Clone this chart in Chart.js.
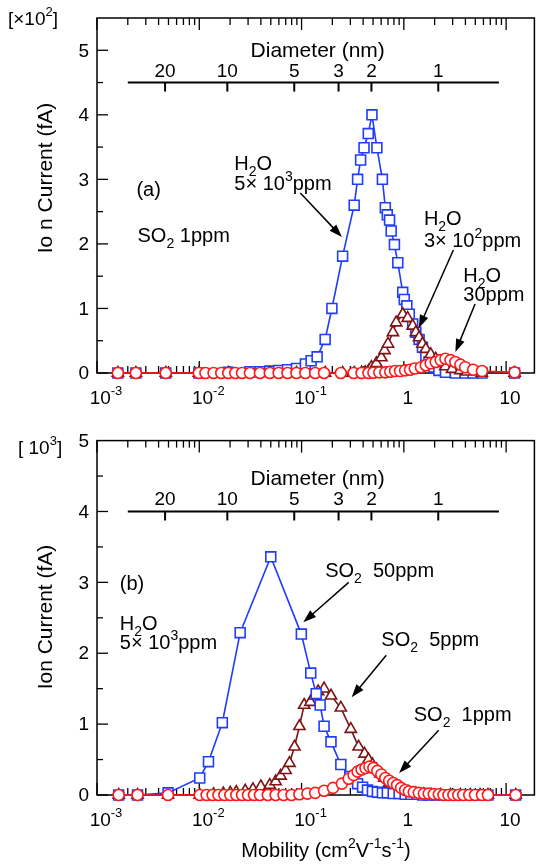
<!DOCTYPE html>
<html lang="en">
<head>
<meta charset="UTF-8">
<title>Ion current vs mobility</title>
<script src="https://cdn.jsdelivr.net/npm/chart.js"></script>
<style>
  body { margin: 0; padding: 0; background: #fff; }
  canvas { display: block; }
</style>
</head>
<body>
<canvas id="chartA" width="543" height="432"></canvas>
<canvas id="chartB" width="543" height="432"></canvas>
<script>
// axis ticks
const xTickVals = [0.001, 0.01, 0.1, 1, 10];
const xTickLabels = ['10^{-3}', '10^{-2}', '10^{-1}', '1', '10'];
const yTickVals = [0, 1, 2, 3, 4, 5];
// diameter scale drawn inside the plot (nm -> mobility)
const diamLabels = ['20', '10', '5', '3', '2', '1'];
const diamMobility = [0.00463, 0.0188, 0.0848, 0.230, 0.482, 2.17];

// (a) SO2 1ppm, H2O 5x10^3 ppm  (units of 10^2 fA)
const mobA_h2o5e3 = [0.0016, 0.0024, 0.0047, 0.0099, 0.0192, 0.0313, 0.0392, 0.0489, 0.0597, 0.0729, 0.0891,
  0.109, 0.124, 0.142, 0.170, 0.198, 0.252, 0.327, 0.353, 0.378, 0.408, 0.449, 0.488,
  0.545, 0.617, 0.659, 0.689, 0.725, 0.752, 0.809, 0.873,
  0.975, 1.01, 1.07, 1.13, 1.22, 1.31, 1.41, 1.52, 1.64, 1.76, 1.97, 2.20, 2.55,
  3.19, 3.98, 4.76, 5.81, 12.1];
const curA_h2o5e3 = [0, 0, 0, 0, 0.01, 0.02, 0.02, 0.03, 0.04, 0.05, 0.07,
  0.14, 0.19, 0.25, 0.52, 1.0, 1.81, 2.6, 3.0, 3.3, 3.49, 3.71, 4.0,
  3.49, 3.0, 2.56, 2.45, 2.37, 2.2, 1.99, 1.71,
  1.25, 1.14, 1.04, 0.91, 0.76, 0.63, 0.52, 0.40, 0.27, 0.17, 0.09, 0.04, 0.01,
  0, 0, 0, 0, 0];
// (a) H2O 3x10^2 ppm
const mobA_h2o300 = [0.0016, 0.0024, 0.0047, 0.0099, 0.0192, 0.0489, 0.0891, 0.170, 0.252, 0.327,
  0.386, 0.420, 0.451, 0.482, 0.539, 0.603, 0.648, 0.700, 0.782, 0.841,
  0.975, 1.09, 1.22, 1.31, 1.41, 1.52, 1.64, 1.83, 2.05, 2.29,
  2.55, 2.96, 3.57, 4.17, 5.78, 12.1];
const curA_h2o300 = [0, 0, 0, 0, 0, 0, 0, 0, 0, 0,
  0.005, 0.01, 0.03, 0.09, 0.15, 0.24, 0.35, 0.45, 0.63, 0.78,
  0.91, 0.85, 0.73, 0.63, 0.55, 0.45, 0.37, 0.29, 0.22, 0.15,
  0.10, 0.06, 0.04, 0.02, 0, 0];
// (a) H2O 30 ppm
const mobA_h2o30 = [0.0016, 0.0024, 0.0047, 0.0099, 0.0115, 0.0138, 0.0164, 0.0192, 0.0225, 0.0262,
  0.0313, 0.0392, 0.0489, 0.0597, 0.0729, 0.0891, 0.109, 0.136, 0.166, 0.242,
  0.323, 0.386, 0.451, 0.504, 0.576, 0.659, 0.736, 0.822, 0.919, 1.03,
  1.15, 1.28, 1.47, 1.64, 1.83, 2.05, 2.29, 2.55, 2.86, 3.19,
  3.57, 3.98, 4.76, 5.81, 12.1];
const curA_h2o30 = [0, 0, 0, 0, 0, 0, 0, 0, 0, 0,
  0, 0, 0, 0, 0, 0, 0, 0, 0, 0,
  0, 0, 0, 0.005, 0.01, 0.01, 0.02, 0.03, 0.03, 0.04,
  0.05, 0.07, 0.09, 0.12, 0.15, 0.17, 0.20, 0.22, 0.20, 0.17,
  0.13, 0.09, 0.05, 0.03, 0.01];

// (b) H2O 5x10^3 ppm, SO2 50 ppm  (units of 10^3 fA)
const mobB_so2_50 = [0.00163, 0.00249, 0.00495, 0.0101, 0.0123, 0.0168, 0.0251, 0.05, 0.0995, 0.123,
  0.139, 0.152, 0.166, 0.194, 0.242, 0.296, 0.353, 0.395, 0.441, 0.493,
  0.551, 0.617, 0.689, 0.787, 0.899, 1.03, 1.17, 1.34, 1.53, 1.75,
  2.05, 2.39, 2.86, 3.33, 3.98, 4.76, 5.81, 6.64, 12.4];
const curB_so2_50 = [0, 0, 0.03, 0.24, 0.47, 1.02, 2.29, 3.36, 2.27, 1.72,
  1.43, 1.27, 0.97, 0.75, 0.43, 0.26, 0.16, 0.11, 0.07, 0.05,
  0.04, 0.03, 0.03, 0.02, 0.02, 0.01, 0.01, 0.01, 0, 0,
  0, 0, 0, 0, 0, 0, 0, 0, 0];
// (b) SO2 5 ppm
const mobB_so2_5 = [0.00163, 0.00249, 0.00495, 0.0101, 0.0138, 0.0172, 0.0201, 0.023, 0.0281, 0.0335,
  0.04, 0.0489, 0.0558, 0.0624, 0.0698, 0.0762, 0.0853, 0.0953, 0.106, 0.122,
  0.133, 0.145, 0.166, 0.194, 0.242, 0.303, 0.361, 0.413, 0.451, 0.493,
  0.539, 0.589, 0.644, 0.719, 0.841, 0.982, 1.12, 1.31, 1.57, 1.87,
  2.29, 2.86, 3.57, 4.46, 5.56, 6.64, 12.4];
const curB_so2_5 = [0, 0, 0, 0, 0.01, 0.02, 0.03, 0.04, 0.06, 0.08,
  0.12, 0.14, 0.19, 0.27, 0.35, 0.45, 0.68, 0.97, 1.27, 1.31,
  1.40, 1.46, 1.50, 1.40, 1.23, 0.93, 0.68, 0.58, 0.50, 0.43,
  0.36, 0.30, 0.24, 0.17, 0.12, 0.07, 0.04, 0.02, 0.01, 0,
  0, 0, 0, 0, 0, 0, 0];
// (b) SO2 1 ppm
const mobB_so2_1 = [0.00163, 0.00249, 0.00495, 0.0101, 0.0118, 0.0135, 0.0154, 0.0176, 0.0201, 0.023,
  0.0262, 0.03, 0.0343, 0.0392, 0.0468, 0.0558, 0.0667, 0.0798, 0.0953, 0.114,
  0.136, 0.166, 0.203, 0.248, 0.289, 0.323, 0.353, 0.386, 0.422, 0.461,
  0.504, 0.551, 0.603, 0.659, 0.719, 0.787, 0.859, 0.94, 1.03, 1.12,
  1.25, 1.40, 1.57, 1.75, 1.96, 2.20, 2.44, 2.73, 3.05, 3.41,
  3.81, 4.36, 4.97, 5.81, 6.64, 12.4];
const curB_so2_1 = [0, 0, 0, 0, 0, 0, 0, 0, 0, 0,
  0, 0, 0, 0, 0, 0, 0, 0, 0.01, 0.02,
  0.03, 0.06, 0.10, 0.16, 0.23, 0.28, 0.33, 0.36, 0.38, 0.40,
  0.38, 0.34, 0.29, 0.24, 0.20, 0.17, 0.14, 0.10, 0.07, 0.05,
  0.04, 0.03, 0.02, 0.02, 0.01, 0.01, 0, 0, 0, 0,
  0, 0, 0, 0, 0, 0];

const FONT = '"Liberation Sans", Arial, sans-serif';

// text with _x / ^x (or _{..} / ^{..}) sub- and superscripts
function richParts(str) {
  const parts = [];
  let buf = '', i = 0;
  while (i < str.length) {
    const c = str[i];
    if (c === '_' || c === '^') {
      if (buf) { parts.push({ t: buf, k: 0 }); buf = ''; }
      let t;
      if (str[i + 1] === '{') { const j = str.indexOf('}', i); t = str.slice(i + 2, j); i = j + 1; }
      else { t = str[i + 1]; i += 2; }
      parts.push({ t: t, k: c === '_' ? -1 : 1 });
    } else { buf += c; i++; }
  }
  if (buf) parts.push({ t: buf, k: 0 });
  return parts;
}

function drawRich(ctx, str, x, y, size, align) {
  const parts = richParts(str);
  const small = Math.round(size * 0.68);
  let w = 0;
  parts.forEach(p => {
    ctx.font = (p.k ? small : size) + 'px ' + FONT;
    p.w = ctx.measureText(p.t).width;
    w += p.w;
  });
  let cx = align === 'center' ? x - w / 2 : (align === 'right' ? x - w : x);
  ctx.textAlign = 'left';
  ctx.textBaseline = 'alphabetic';
  parts.forEach(p => {
    ctx.font = (p.k ? small : size) + 'px ' + FONT;
    const dy = p.k === 1 ? -size * 0.45 : (p.k === -1 ? size * 0.28 : 0);
    ctx.fillText(p.t, cx, y + dy);
    cx += p.w;
  });
}

function line(ctx, x1, y1, x2, y2) {
  ctx.beginPath(); ctx.moveTo(x1, y1); ctx.lineTo(x2, y2); ctx.stroke();
}

function arrow(ctx, x1, y1, x2, y2) {
  const a = Math.atan2(y2 - y1, x2 - x1), L = 13, W = 4.5;
  const c = Math.cos(a), s = Math.sin(a);
  line(ctx, x1, y1, x2 - L * 0.7 * c, y2 - L * 0.7 * s);
  ctx.beginPath();
  ctx.moveTo(x2, y2);
  ctx.lineTo(x2 - L * c + W * s, y2 - L * s - W * c);
  ctx.lineTo(x2 - L * c - W * s, y2 - L * s + W * c);
  ctx.closePath();
  ctx.fill();
}

const paper = {
  id: 'paper',
  beforeDatasetsDraw(chart, args, o) {
    const { ctx, chartArea: a } = chart;
    const x = chart.scales.x, y = chart.scales.y;
    ctx.save();
    ctx.strokeStyle = '#000';
    ctx.fillStyle = '#000';
    ctx.lineWidth = 1.5;
    ctx.strokeRect(a.left, a.top, a.right - a.left, a.bottom - a.top);

    // y ticks (inside) and labels
    ctx.lineWidth = 1.3;
    for (let v = 0; v <= y.max - 0.25; v += 0.5) {
      const py = y.getPixelForValue(v);
      line(ctx, a.left, py, a.left + (v % 1 === 0 ? 11 : 6), py);
    }
    ctx.font = '19px ' + FONT;
    ctx.textAlign = 'right';
    ctx.textBaseline = 'middle';
    yTickVals.forEach(v => ctx.fillText(String(v), a.left - 8, y.getPixelForValue(v) + 1));

    // x ticks on bottom and top
    for (let e = -3; e <= 1; e++) {
      for (let k = 1; k <= 9; k++) {
        const m = k * Math.pow(10, e);
        if (m > x.max) break;
        const px = x.getPixelForValue(m), len = k === 1 ? 12 : 7;
        line(ctx, px, a.bottom, px, a.bottom - len);
        line(ctx, px, a.top, px, a.top + len);
      }
    }
    ctx.fillStyle = '#000';
    xTickVals.forEach((m, i) => {
      const lab = xTickLabels[i];
      const off = lab.indexOf('^') >= 0 ? 9 : 4;
      drawRich(ctx, lab, x.getPixelForValue(m) + off, a.bottom + 31, 19, 'center');
    });

    // diameter axis
    const dy = y.getPixelForValue(o.diamAt);
    ctx.lineWidth = 2;
    line(ctx, x.getPixelForValue(0.002), dy, x.getPixelForValue(8.5), dy);
    ctx.font = '19px ' + FONT;
    ctx.textAlign = 'center';
    ctx.textBaseline = 'alphabetic';
    diamMobility.forEach((m, i) => {
      const px = x.getPixelForValue(m);
      line(ctx, px, dy, px, dy + 9);
      ctx.fillText(diamLabels[i], px, dy - 6);
    });
    ctx.font = '21px ' + FONT;
    ctx.fillText('Diameter (nm)', (a.left + a.right) / 2 + 2, dy - 26);

    // axis titles and scale factor
    drawRich(ctx, o.bracket.s, o.bracket.x, o.bracket.y, 19, 'left');
    ctx.save();
    ctx.translate(46, o.yTitleY);
    ctx.rotate(-Math.PI / 2);
    ctx.font = '21px ' + FONT;
    ctx.textAlign = 'center';
    ctx.textBaseline = 'middle';
    ctx.fillText(o.yTitle, 0, 0);
    ctx.restore();
    if (o.xTitle) drawRich(ctx, o.xTitle, 326, a.bottom + 62, 20, 'center');
    ctx.restore();
  },
  afterDatasetsDraw(chart, args, o) {
    const { ctx } = chart;
    const x = chart.scales.x, y = chart.scales.y;
    ctx.save();
    ctx.fillStyle = '#000';
    ctx.strokeStyle = '#000';
    ctx.lineWidth = 1.5;
    o.texts.forEach(t => drawRich(ctx, t.s, x.getPixelForValue(t.m), y.getPixelForValue(t.v), 20, 'left'));
    o.arrows.forEach(r => arrow(ctx, x.getPixelForValue(r[0]), y.getPixelForValue(r[1]),
      x.getPixelForValue(r[2]), y.getPixelForValue(r[3])));
    ctx.restore();
  }
};

const BLUE = '#1f3cff', BROWN = '#7d1414', RED = '#ff1a1a';
function series(mob, cur, color, shape, r) {
  return {
    data: mob.map((m, i) => ({ x: m, y: cur[i] })),
    borderColor: color, borderWidth: 1.6,
    pointStyle: shape, pointRadius: r, pointBorderWidth: 1.6,
    pointBorderColor: color, pointBackgroundColor: '#fff',
    tension: 0, clip: false
  };
}

function makeChart(id, datasets, ymax, top, xh, paperOpts) {
  return new Chart(document.getElementById(id), {
    type: 'line',
    data: { datasets: datasets },
    options: {
      responsive: false,
      animation: false,
      events: [],
      layout: { padding: { top: top, right: 3, left: 0, bottom: 0 } },
      plugins: { legend: { display: false }, tooltip: { enabled: false }, paper: paperOpts },
      scales: {
        x: {
          type: 'logarithmic', min: 0.001, max: 18.9,
          afterFit: s => { s.height = xh; },
          grid: { display: false }, border: { display: false }, ticks: { display: false }
        },
        y: {
          min: 0, max: ymax,
          afterFit: s => { s.width = 97; },
          grid: { display: false }, border: { display: false }, ticks: { display: false }
        }
      }
    },
    plugins: [paper]
  });
}

makeChart('chartA', [
  series(mobA_h2o30, curA_h2o30, RED, 'circle', 5.5),
  series(mobA_h2o300, curA_h2o300, BROWN, 'triangle', 6.5),
  series(mobA_h2o5e3, curA_h2o5e3, BLUE, 'rect', 7)
], 5.5, 18, 59, {
  diamAt: 4.5,
  bracket: { s: '[×10^2]', x: 8, y: 25 },
  yTitle: 'Io n Current (fA)', yTitleY: 178,
  texts: [
    { s: '(a)', m: 0.00243, v: 2.74 },
    { s: 'SO_2 1ppm', m: 0.00249, v: 2.03 },
    { s: 'H_2O', m: 0.022, v: 3.145 },
    { s: '5× 10^3ppm', m: 0.022, v: 2.835 },
    { s: 'H_2O', m: 1.57, v: 2.29 },
    { s: '3× 10^2ppm', m: 1.57, v: 1.95 },
    { s: 'H_2O', m: 3.81, v: 1.41 },
    { s: '30ppm', m: 3.81, v: 1.115 }
  ],
  arrows: [
    [0.0973, 2.79, 0.248, 2.107],
    [3.05, 1.905, 1.40, 0.697],
    [4.97, 1.069, 3.19, 0.325]
  ]
});

makeChart('chartB', [
  series(mobB_so2_1, curB_so2_1, RED, 'circle', 5.5),
  series(mobB_so2_50, curB_so2_50, BLUE, 'rect', 7),
  series(mobB_so2_5, curB_so2_5, BROWN, 'triangle', 6.5)
], 5, 8, 69, {
  diamAt: 4,
  bracket: { s: '[ 10^3]', x: 18, y: 22 },
  yTitle: 'Ion Current (fA)', yTitleY: 185,
  xTitle: 'Mobility (cm^2V^{-1}s^{-1})',
  texts: [
    { s: '(b)', m: 0.00167, v: 2.887 },
    { s: 'H_2O', m: 0.00167, v: 2.324 },
    { s: '5× 10^3ppm', m: 0.00167, v: 2.056 },
    { s: 'SO_2  50ppm', m: 0.17, v: 3.07 },
    { s: 'SO_2  5ppm', m: 0.603, v: 2.099 },
    { s: 'SO_2  1ppm', m: 1.25, v: 1.042 }
  ],
  arrows: [
    [0.289, 3.0, 0.104, 2.437],
    [0.673, 1.972, 0.309, 1.38],
    [2.19, 0.915, 0.899, 0.31]
  ]
});
</script>
</body>
</html>
